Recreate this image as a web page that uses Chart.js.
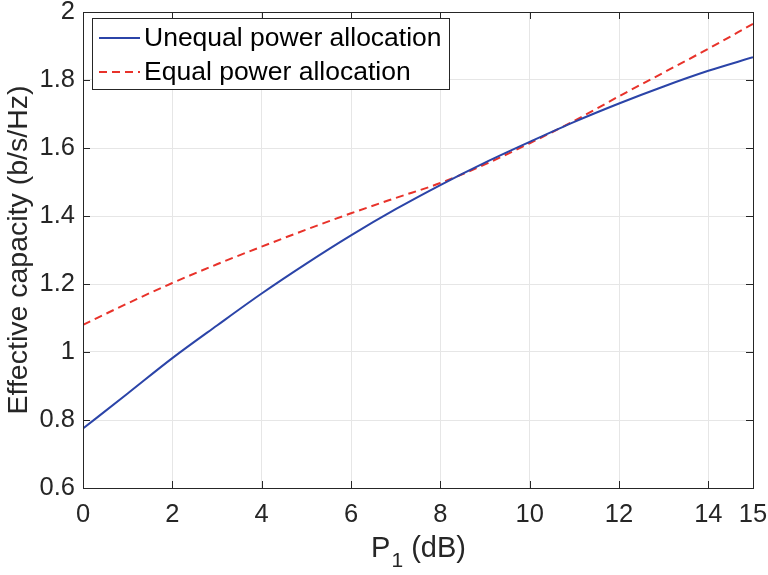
<!DOCTYPE html>
<html>
<head>
<meta charset="utf-8">
<script src="https://cdn.jsdelivr.net/npm/chart.js@4.4.1/dist/chart.umd.min.js"></script>
<style>
  html, body { margin: 0; padding: 0; background: #fff; }
  #wrap { width: 768px; height: 575px; }
</style>
</head>
<body>
<div id="wrap"><canvas id="c" width="768" height="575"></canvas></div>
<script>
const p1Values = [0, 1, 2, 3, 4, 5, 6, 7, 8, 9, 10, 11, 12, 13, 14, 15];
const unequalPower = [0.775, 0.878, 0.982, 1.078, 1.172, 1.260, 1.343, 1.420, 1.491, 1.557, 1.618, 1.677, 1.731, 1.781, 1.827, 1.867];
const equalPower = [1.080, 1.143, 1.203, 1.258, 1.310, 1.360, 1.408, 1.453, 1.497, 1.552, 1.614, 1.680, 1.752, 1.822, 1.892, 1.965];
const xTickValues = [0, 2, 4, 6, 8, 10, 12, 14, 15];
const yTickValues = [0.6, 0.8, 1.0, 1.2, 1.4, 1.6, 1.8, 2.0];
const seriesLabels = ['Unequal power allocation', 'Equal power allocation'];
const yTitle = 'Effective capacity (b/s/Hz)';

const FONT = '"Liberation Sans", Arial, Helvetica, sans-serif';
const TXT = '#262626';

const boxTicksPlugin = {
  id: 'boxTicks',
  afterDatasetsDraw(chart) {
    const { ctx, chartArea: a, scales } = chart;
    ctx.save();
    ctx.strokeStyle = TXT;
    ctx.lineWidth = 1;
    const L = 7;
    ctx.beginPath();
    xTickValues.forEach(v => {
      const x = Math.round(scales.x.getPixelForValue(v)) + 0.5;
      ctx.moveTo(x, a.bottom); ctx.lineTo(x, a.bottom - L);
      ctx.moveTo(x, a.top); ctx.lineTo(x, a.top + L);
    });
    yTickValues.forEach(v => {
      const y = Math.round(scales.y.getPixelForValue(v)) + 0.5;
      ctx.moveTo(a.left, y); ctx.lineTo(a.left + L, y);
      ctx.moveTo(a.right, y); ctx.lineTo(a.right - L, y);
    });
    ctx.stroke();
    ctx.strokeRect(Math.round(a.left) + 0.5, Math.round(a.top) + 0.5, Math.round(a.right - a.left), Math.round(a.bottom - a.top));
    ctx.restore();
  },
  afterDraw(chart) {
    const { ctx, chartArea: a } = chart;
    ctx.save();
    // legend box
    ctx.font = '26.5px ' + FONT;
    const tw = Math.max(...chart.data.datasets.map(d => ctx.measureText(d.label).width));
    const bx = a.left + 9, by = a.top + 6;
    const bw = 52 + tw + 7, bh = 71;
    ctx.fillStyle = '#fff';
    ctx.fillRect(bx, by, bw, bh);
    ctx.strokeStyle = TXT;
    ctx.lineWidth = 1;
    ctx.strokeRect(Math.round(bx) + 0.5, Math.round(by) + 0.5, Math.round(bw), bh);
    chart.data.datasets.forEach((d, i) => {
      const ly = by + 20 + i * 34;
      ctx.beginPath();
      ctx.strokeStyle = d.borderColor;
      ctx.lineWidth = 2;
      ctx.setLineDash(d.borderDash || []);
      ctx.moveTo(bx + 7, ly); ctx.lineTo(bx + 48, ly);
      ctx.stroke();
      ctx.setLineDash([]);
      ctx.fillStyle = '#000';
      ctx.textBaseline = 'middle';
      ctx.textAlign = 'left';
      ctx.fillText(d.label, bx + 52, ly + 1);
    });
    // x-axis title with subscript
    const cx = (a.left + a.right) / 2;
    const base = 557;
    ctx.fillStyle = TXT;
    ctx.textBaseline = 'alphabetic';
    const bigF = '29px ' + FONT, smallF = '21px ' + FONT;
    ctx.font = bigF; const wP = ctx.measureText('P').width; const wRest = ctx.measureText(' (dB)').width;
    ctx.font = smallF; const w1 = ctx.measureText('1').width;
    let x0 = cx - (wP + w1 + wRest) / 2;
    ctx.font = bigF; ctx.fillText('P', x0, base);
    ctx.font = smallF; ctx.fillText('1', x0 + wP + 1, base + 10);
    ctx.font = bigF; ctx.fillText(' (dB)', x0 + wP + w1 + 1, base);
    ctx.restore();
  }
};

new Chart(document.getElementById('c'), {
  type: 'line',
  data: {
    datasets: [
      {
        label: seriesLabels[0],
        data: p1Values.map((x, i) => ({ x, y: unequalPower[i] })),
        borderColor: '#2b44a8',
        borderWidth: 2,
        pointRadius: 0,
        fill: false,
        cubicInterpolationMode: 'monotone'
      },
      {
        label: seriesLabels[1],
        data: p1Values.map((x, i) => ({ x, y: equalPower[i] })),
        borderColor: '#e8322a',
        borderWidth: 2,
        borderDash: [8, 5],
        pointRadius: 0,
        fill: false,
        cubicInterpolationMode: 'monotone'
      }
    ]
  },
  options: {
    responsive: false,
    animation: false,
    devicePixelRatio: 1,
    layout: { padding: { left: 0, right: 15, top: 12, bottom: 0 } },
    plugins: { legend: { display: false }, tooltip: { enabled: false } },
    scales: {
      x: {
        type: 'linear', min: 0, max: 15,
        afterBuildTicks: s => { s.ticks = xTickValues.map(v => ({ value: v })); },
        afterFit: s => { s.height = 87; s.paddingLeft = 0; s.paddingRight = 0; },
        grid: { color: '#e6e6e6', lineWidth: 1, drawTicks: false },
        border: { display: false },
        ticks: { color: TXT, font: { family: FONT, size: 25.5 }, padding: 12, maxRotation: 0, autoSkip: false,
                 callback: v => String(v) },
        title: { display: false }
      },
      y: {
        type: 'linear', min: 0.6, max: 2.0,
        afterBuildTicks: s => { s.ticks = yTickValues.map(v => ({ value: v })); },
        afterFit: s => { s.width = 83; s.paddingTop = 0; s.paddingBottom = 0; },
        grid: { color: '#e6e6e6', lineWidth: 1, drawTicks: false },
        border: { display: false },
        ticks: { color: TXT, font: { family: FONT, size: 25.5 }, padding: 8, autoSkip: false,
                 callback: v => String(Number(v.toFixed(1))) },
        title: { display: true, text: yTitle, color: TXT, font: { family: FONT, size: 28.5 }, padding: { top: 2, bottom: 0 } }
      }
    }
  },
  plugins: [boxTicksPlugin]
});
</script>
</body>
</html>
